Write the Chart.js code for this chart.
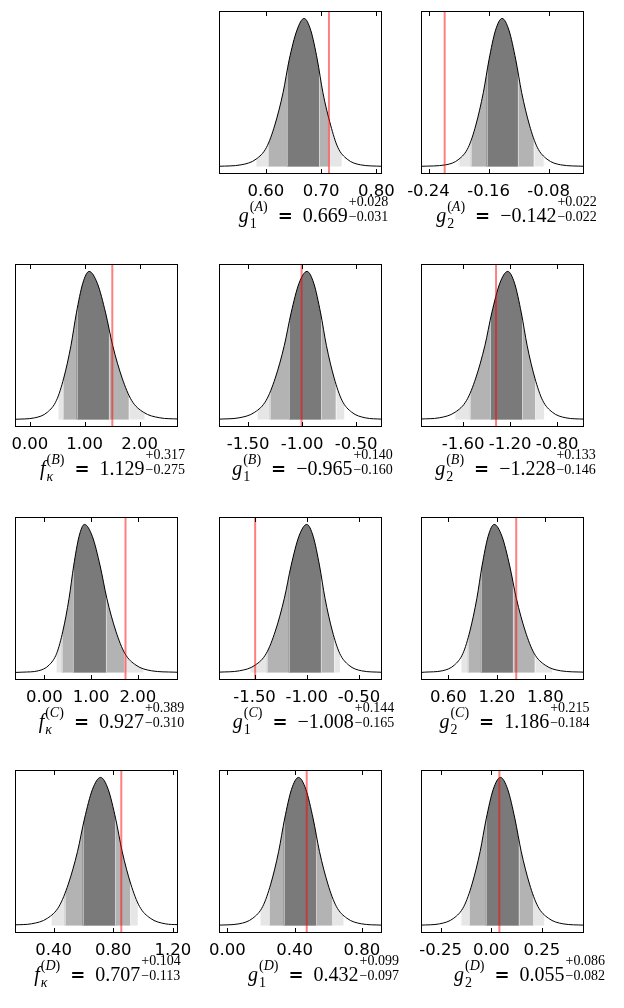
<!DOCTYPE html>
<html>
<head>
<meta charset="utf-8">
<script src="https://cdn.jsdelivr.net/npm/chart.js@4.4.0/dist/chart.umd.min.js"></script>
<style>
  body { margin: 0; background: #fff; width: 624px; height: 1008px; position: relative; overflow: hidden; }
  canvas { position: absolute; }
  .lab { position: absolute; white-space: nowrap; font-family: 'Liberation Serif', serif; font-size: 20px; line-height: 22px; color: #000; transform: translateX(-50%); }
  .st { display: inline-block; font-size: 14px; text-align: left; margin-left: 1px; }
  .st span { display: block; }
  .sv { line-height: 17px; vertical-align: -6px; }
  .sn { line-height: 15px; vertical-align: 1px; }
  .eq { font-family: 'DejaVu Sans', sans-serif; font-weight: bold; font-size: 18px; margin: 0 10px 0 10px; }
</style>
</head>
<body>
<script>
// one entry per panel, reading order (row A has no f_kappa panel)
const panelTags = ['A', 'A', 'B', 'B', 'B', 'C', 'C', 'C', 'D', 'D', 'D'];
const paramBase = ['g', 'g', 'f', 'g', 'g', 'f', 'g', 'g', 'f', 'g', 'g'];
const paramSub = ['1', '2', 'κ', '1', '2', 'κ', '1', '2', 'κ', '1', '2'];
const medians = [0.669, -0.142, 1.129, -0.965, -1.228, 0.927, -1.008, 1.186, 0.707, 0.432, 0.055];
const errPlus = [0.028, 0.022, 0.317, 0.140, 0.133, 0.389, 0.144, 0.215, 0.104, 0.099, 0.086];
const errMinus = [0.031, 0.022, 0.275, 0.160, 0.146, 0.310, 0.165, 0.184, 0.113, 0.097, 0.082];
const trueValues = [0.714, -0.2185, 1.503, -1.005, -1.32, 1.736, -1.494, 1.44, 0.854, 0.472, 0.04];

const xLimits = [[0.515, 0.81], [-0.25, -0.033], [-0.27, 2.70], [-1.77, -0.26], [-1.96, -0.57],
  [-0.63, 2.86], [-1.84, -0.28], [0.26, 2.28], [0.14, 1.235], [-0.05, 0.92], [-0.347, 0.458]];
const xTicks = [[0.6, 0.7, 0.8], [-0.24, -0.16, -0.08], [0, 1, 2], [-1.5, -1, -0.5], [-1.6, -1.2, -0.8],
  [0, 1, 2], [-1.5, -1, -0.5], [0.6, 1.2, 1.8], [0.4, 0.8, 1.2], [0, 0.4, 0.8], [-0.25, 0, 0.25]];

// credible intervals (dark / medium / light shading)
const band1 = [[0.638, 0.696], [-0.1627, -0.1211], [0.852, 1.44], [-1.122, -0.826], [-1.368, -1.098],
  [0.617, 1.316], [-1.173, -0.866], [1.002, 1.398], [0.594, 0.813], [0.335, 0.529], [-0.027, 0.135]];
const band2 = [[0.604, 0.713], [-0.1837, -0.1001], [0.606, 1.80], [-1.30, -0.69], [-1.543, -0.986],
  [0.371, 1.714], [-1.382, -0.739], [0.84, 1.667], [0.474, 0.914], [0.25, 0.625], [-0.108, 0.208]];
const band3 = [[0.582, 0.737], [-0.200, -0.0867], [0.515, 2.09], [-1.414, -0.608], [-1.671, -0.909],
  [0.25, 2.121], [-1.541, -0.682], [0.757, 1.883], [0.384, 0.965], [0.1945, 0.691], [-0.15, 0.262]];

// posterior density (peak = 1)
const curveX = [
  [0.515, 0.555, 0.582, 0.601, 0.616, 0.631, 0.642, 0.656, 0.669, 0.681, 0.693, 0.703, 0.717, 0.730, 0.747, 0.771, 0.81],
  [-0.25, -0.217, -0.1995, -0.187, -0.177, -0.167, -0.1595, -0.1508, -0.142, -0.1329, -0.1238, -0.116, -0.1056, -0.0952, -0.0822, -0.064, -0.033],
  [-0.27, 0.09, 0.321, 0.486, 0.618, 0.75, 0.849, 0.965, 1.08, 1.23, 1.381, 1.51, 1.682, 1.854, 2.069, 2.37, 2.70],
  [-1.77, -1.585, -1.438, -1.333, -1.249, -1.165, -1.102, -1.0285, -0.955, -0.892, -0.829, -0.775, -0.703, -0.631, -0.541, -0.415, -0.26],
  [-1.96, -1.805, -1.6685, -1.571, -1.493, -1.415, -1.3565, -1.288, -1.22, -1.162, -1.1045, -1.055, -0.989, -0.923, -0.8405, -0.725, -0.57],
  [-0.63, -0.463, -0.133, 0.098, 0.263, 0.395, 0.527, 0.626, 0.742, 0.857, 1.025, 1.193, 1.337, 1.529, 1.721, 1.961, 2.297, 2.777, 2.86],
  [-1.84, -1.645, -1.4945, -1.387, -1.301, -1.215, -1.1505, -1.075, -1.0, -0.939, -0.8775, -0.825, -0.755, -0.685, -0.5975, -0.475, -0.28],
  [0.26, 0.307, 0.522, 0.6725, 0.78, 0.866, 0.952, 1.0165, 1.092, 1.167, 1.263, 1.3595, 1.442, 1.552, 1.662, 1.7995, 1.992, 2.28],
  [0.14, 0.25, 0.3585, 0.436, 0.498, 0.56, 0.6065, 0.6607, 0.715, 0.7658, 0.8165, 0.86, 0.918, 0.976, 1.0485, 1.15, 1.235],
  [-0.05, 0.069, 0.1516, 0.2106, 0.2578, 0.305, 0.3404, 0.3817, 0.423, 0.4668, 0.5105, 0.548, 0.598, 0.648, 0.7105, 0.798, 0.92],
  [-0.347, -0.255, -0.185, -0.135, -0.095, -0.055, -0.025, 0.01, 0.045, 0.081, 0.117, 0.148, 0.189, 0.230, 0.282, 0.354, 0.458]
];
const curveY = [
  [0.002, 0.012, 0.05, 0.13, 0.28, 0.5, 0.72, 0.92, 1, 0.92, 0.72, 0.5, 0.28, 0.13, 0.05, 0.012, 0.002],
  [0.002, 0.012, 0.05, 0.13, 0.28, 0.5, 0.72, 0.92, 1, 0.92, 0.72, 0.5, 0.28, 0.13, 0.05, 0.012, 0.002],
  [0.002, 0.012, 0.05, 0.13, 0.28, 0.5, 0.72, 0.92, 1, 0.92, 0.72, 0.5, 0.28, 0.13, 0.05, 0.012, 0.004],
  [0.003, 0.012, 0.05, 0.13, 0.28, 0.5, 0.72, 0.92, 1, 0.92, 0.72, 0.5, 0.28, 0.13, 0.05, 0.012, 0.003],
  [0.004, 0.012, 0.05, 0.13, 0.28, 0.5, 0.72, 0.92, 1, 0.92, 0.72, 0.5, 0.28, 0.13, 0.05, 0.012, 0.003],
  [0.001, 0.003, 0.012, 0.05, 0.13, 0.28, 0.5, 0.72, 0.92, 1, 0.92, 0.72, 0.5, 0.28, 0.13, 0.05, 0.012, 0.003, 0.002],
  [0.003, 0.012, 0.05, 0.13, 0.28, 0.5, 0.72, 0.92, 1, 0.92, 0.72, 0.5, 0.28, 0.13, 0.05, 0.012, 0.002],
  [0.001, 0.003, 0.012, 0.05, 0.13, 0.28, 0.5, 0.72, 0.92, 1, 0.92, 0.72, 0.5, 0.28, 0.13, 0.05, 0.012, 0.003],
  [0.005, 0.012, 0.05, 0.13, 0.28, 0.5, 0.72, 0.92, 1, 0.92, 0.72, 0.5, 0.28, 0.13, 0.05, 0.012, 0.006],
  [0.003, 0.012, 0.05, 0.13, 0.28, 0.5, 0.72, 0.92, 1, 0.92, 0.72, 0.5, 0.28, 0.13, 0.05, 0.012, 0.003],
  [0.003, 0.012, 0.05, 0.13, 0.28, 0.5, 0.72, 0.92, 1, 0.92, 0.72, 0.5, 0.28, 0.13, 0.05, 0.012, 0.003]
];

// layout
const boxLeft = [15, 219, 421];
const boxTop = [11, 264, 517, 770];
const cellOf = [[0, 1], [0, 2], [1, 0], [1, 1], [1, 2], [2, 0], [2, 1], [2, 2], [3, 0], [3, 1], [3, 2]];
const labelShift = [13, 14, 16, 12, 13, 15, 13, 12, 11, 23, 27];
const BOX = 163, PAD_X = 30, PAD_T = 4, AXIS_H = 34;
const shades = ['#e6e6e6', '#b3b3b3', '#7a7a7a'];

function curvePath(ctx, line, pts, base) {
  ctx.beginPath();
  line.path(ctx);
  ctx.lineTo(pts[pts.length - 1].x, base);
  ctx.lineTo(pts[0].x, base);
  ctx.closePath();
}

function bandPlugin(i) {
  return {
    id: 'bands',
    beforeDatasetsDraw(chart) {
      const {ctx, chartArea: a, scales: {x, y}} = chart;
      const meta = chart.getDatasetMeta(0);
      const line = meta.dataset, pts = meta.data;
      line.updateControlPoints(a, 'x');
      const base = y.getPixelForValue(0);
      const bands = [band3[i], band2[i], band1[i]];
      bands.forEach(([lo, hi], k) => {
        const x0 = x.getPixelForValue(lo), x1 = x.getPixelForValue(hi);
        ctx.save();
        ctx.beginPath();
        ctx.rect(x0, a.top, x1 - x0, a.bottom - a.top);
        ctx.clip();
        curvePath(ctx, line, pts, base);
        ctx.fillStyle = shades[k];
        ctx.fill();
        ctx.restore();
      });
      // faint seams where the shades meet
      ctx.save();
      curvePath(ctx, line, pts, base);
      ctx.clip();
      ctx.strokeStyle = 'rgba(255,255,255,0.45)';
      ctx.lineWidth = 1;
      ctx.beginPath();
      bands.forEach(b => b.forEach(v => {
        const sx = Math.round(x.getPixelForValue(v)) + 0.5;
        ctx.moveTo(sx, a.top);
        ctx.lineTo(sx, base);
      }));
      ctx.stroke();
      ctx.restore();
    }
  };
}

function framePlugin(i) {
  return {
    id: 'frame',
    afterDatasetsDraw(chart) {
      const {ctx, chartArea: a, scales: {x}} = chart;
      const px = x.getPixelForValue(trueValues[i]);
      ctx.save();
      ctx.beginPath();
      ctx.rect(a.left, a.top, a.right - a.left, a.bottom - a.top);
      ctx.clip();
      ctx.strokeStyle = 'rgba(255,0,0,0.5)';
      ctx.lineWidth = 2;
      ctx.beginPath();
      ctx.moveTo(px, a.top);
      ctx.lineTo(px, a.bottom);
      ctx.stroke();
      ctx.restore();
    },
    afterDraw(chart) {
      const {ctx, chartArea: a, scales: {x}} = chart;
      ctx.save();
      ctx.strokeStyle = '#000';
      ctx.lineWidth = 1;
      ctx.strokeRect(a.left + 0.5, a.top + 0.5, a.right - a.left - 1, a.bottom - a.top - 1);
      ctx.beginPath();
      xTicks[i].forEach(v => {
        const tx = Math.round(x.getPixelForValue(v)) + 0.5;
        ctx.moveTo(tx, a.bottom);
        ctx.lineTo(tx, a.bottom - 5);
        ctx.moveTo(tx, a.top);
        ctx.lineTo(tx, a.top + 5);
      });
      ctx.stroke();
      ctx.restore();
    }
  };
}

const fmt = v => v.toFixed(3).replace('-', '\u2212');

function labelHtml(i) {
  const sub = paramSub[i] === 'κ' ? '<i>κ</i>' : paramSub[i];
  return '<i>' + paramBase[i] + '</i>' +
    '<span class="st sv"><span>(<i>' + panelTags[i] + '</i>)</span><span>' + sub + '</span></span>' +
    '<span class="eq">=</span>' + fmt(medians[i]) +
    '<span class="st sn"><span>+' + errPlus[i].toFixed(3) + '</span><span>\u2212' + errMinus[i].toFixed(3) + '</span></span>';
}

panelTags.forEach((tag, i) => {
  const [row, col] = cellOf[i];
  const left = boxLeft[col], top = boxTop[row];

  const canvas = document.createElement('canvas');
  canvas.width = BOX + 2 * PAD_X;
  canvas.height = PAD_T + BOX + AXIS_H;
  canvas.style.left = (left - PAD_X) + 'px';
  canvas.style.top = (top - PAD_T) + 'px';
  document.body.appendChild(canvas);

  new Chart(canvas, {
    type: 'line',
    data: {
      datasets: [{
        data: curveX[i].map((v, j) => ({x: v, y: curveY[i][j]})),
        borderColor: '#000',
        borderWidth: 1,
        pointRadius: 0,
        fill: false,
        cubicInterpolationMode: 'monotone'
      }]
    },
    options: {
      responsive: false,
      animation: false,
      events: [],
      layout: { padding: { left: PAD_X, right: PAD_X, top: PAD_T, bottom: 0 } },
      plugins: { legend: { display: false }, tooltip: { enabled: false } },
      scales: {
        x: {
          type: 'linear',
          min: xLimits[i][0],
          max: xLimits[i][1],
          afterBuildTicks: axis => { axis.ticks = xTicks[i].map(v => ({value: v})); },
          afterFit: axis => { axis.height = AXIS_H; },
          grid: { display: false, drawTicks: false },
          border: { display: false },
          ticks: {
            color: '#000',
            font: { family: 'DejaVu Sans', size: 16.5 },
            padding: 8,
            autoSkip: false,
            maxRotation: 0,
            minRotation: 0,
            callback: v => v.toFixed(2)
          }
        },
        y: { display: false, min: -0.05, max: 1.05 }
      }
    },
    plugins: [bandPlugin(i), framePlugin(i)]
  });

  const lab = document.createElement('div');
  lab.className = 'lab';
  lab.style.left = (left + BOX / 2 + labelShift[i]) + 'px';
  lab.style.top = (top + BOX + 20) + 'px';
  lab.innerHTML = labelHtml(i);
  document.body.appendChild(lab);
});
</script>
</body>
</html>
